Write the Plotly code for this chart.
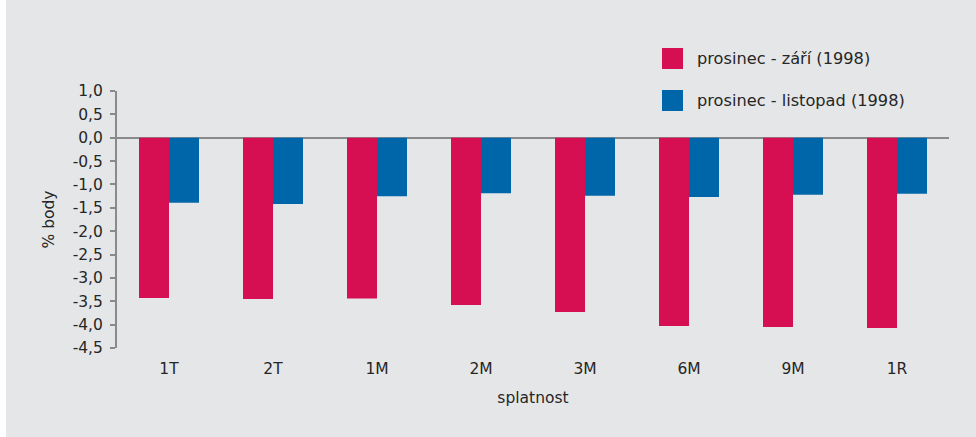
import plotly.graph_objects as go

categories = ["1T", "2T", "1M", "2M", "3M", "6M", "9M", "1R"]
series_names = ["prosinec - září (1998)", "prosinec - listopad (1998)"]
sep_values = [-3.43, -3.45, -3.44, -3.58, -3.73, -4.03, -4.05, -4.07]
nov_values = [-1.39, -1.42, -1.25, -1.19, -1.24, -1.27, -1.22, -1.20]
y_tick_vals = [1.0, 0.5, 0.0, -0.5, -1.0, -1.5, -2.0, -2.5, -3.0, -3.5, -4.0, -4.5]
y_tick_text = ["1,0", "0,5", "0,0", "-0,5", "-1,0", "-1,5", "-2,0", "-2,5", "-3,0", "-3,5", "-4,0", "-4,5"]
x_title = "splatnost"
y_title = "% body"

RED = "#d60f52"
BLUE = "#0066aa"
BG = "#e5e6e8"
AXIS = "#8a8a8a"
TXT = "#262626"
FONT = "DejaVu Sans"
FS = 15.5
FL = 16.2

W, H = 976, 437
L, R, T, B = 117, 27, 91, 89
pw, ph = W - L - R, H - T - B

def px(x):
    return (x - L) / pw

def py(y):
    return (H - B - y) / ph

fig = go.Figure()
fig.add_trace(go.Bar(x=categories, y=sep_values, name=series_names[0],
                     marker=dict(color=RED, line=dict(width=0))))
fig.add_trace(go.Bar(x=categories, y=nov_values, name=series_names[1],
                     marker=dict(color=BLUE, line=dict(width=0))))

shapes = [
    dict(type="rect", xref="paper", yref="paper", x0=px(-5), x1=px(6), y0=py(H + 5), y1=py(-5),
         fillcolor="white", line=dict(width=0), layer="below"),
]
annotations = []
legend_items = [(series_names[0], RED, 48), (series_names[1], BLUE, 90)]
for name, col, top in legend_items:
    shapes.append(dict(type="rect", xref="paper", yref="paper",
                       x0=px(662), x1=px(683), y0=py(top + 21), y1=py(top),
                       fillcolor=col, line=dict(width=0)))
    annotations.append(dict(xref="paper", yref="paper", x=px(695), y=py(top + 10.5),
                            text=name, showarrow=False, xanchor="left", yanchor="middle",
                            font=dict(family=FONT, size=FL, color=TXT)))

fig.update_layout(
    width=W, height=H,
    margin=dict(l=L, r=R, t=T, b=B),
    paper_bgcolor=BG, plot_bgcolor=BG,
    barmode="group", bargap=0.423, bargroupgap=0,
    showlegend=False,
    shapes=shapes, annotations=annotations,
    font=dict(family=FONT, size=FS, color=TXT),
    xaxis=dict(showline=False, showgrid=False, ticks="", zeroline=False,
               ticklabelstandoff=9,
               tickfont=dict(family=FONT, size=FS, color=TXT),
               title=dict(text=x_title, font=dict(family=FONT, size=FS, color=TXT), standoff=15)),
    yaxis=dict(range=[-4.5, 1.0], tickvals=y_tick_vals, ticktext=y_tick_text,
               showgrid=False, showline=True, linecolor=AXIS, linewidth=2,
               ticks="outside", ticklen=5, tickwidth=2, tickcolor=AXIS,
               ticklabelstandoff=4,
               zeroline=True, zerolinecolor=AXIS, zerolinewidth=2,
               tickfont=dict(family=FONT, size=FS, color=TXT),
               title=dict(text=y_title, font=dict(family=FONT, size=FS, color=TXT), standoff=14)),
)

fig.write_html("out.html")
